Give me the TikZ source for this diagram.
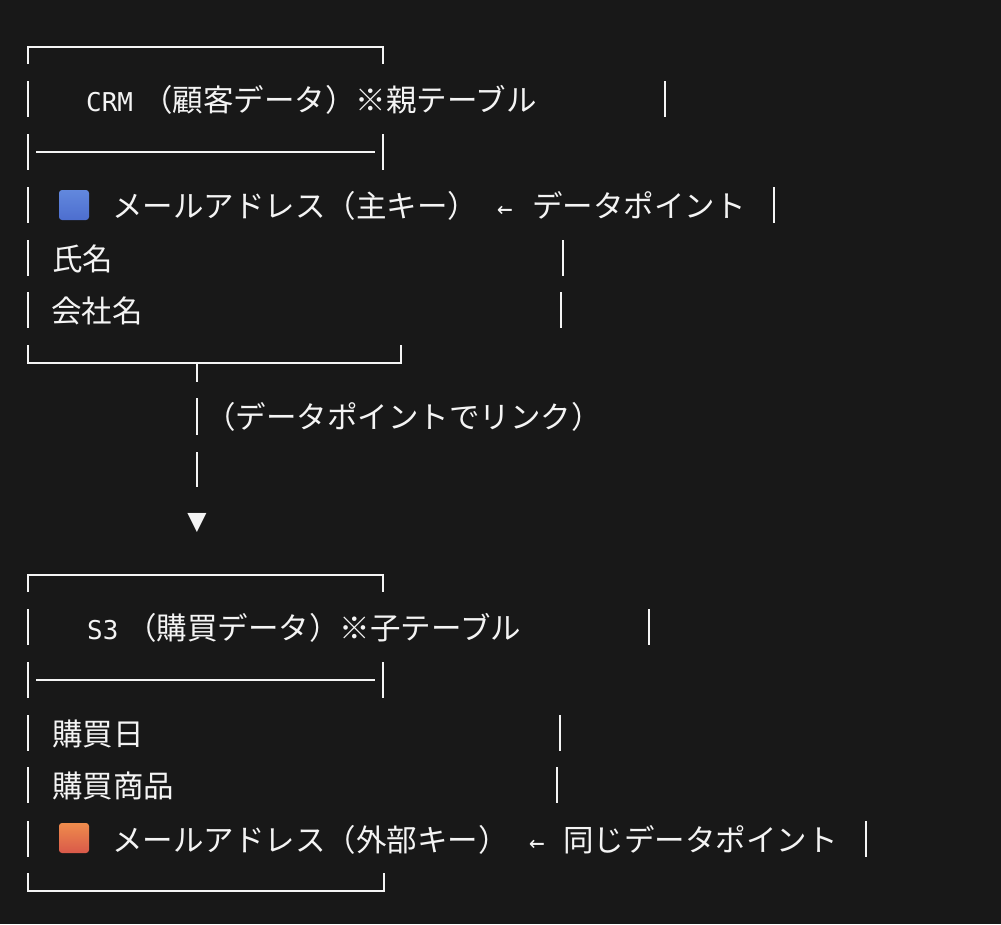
\documentclass[tikz,border=0pt]{standalone}
\usepackage{fontspec}
\setmainfont{Noto Sans CJK JP}
\newfontfamily\latinmono[Scale=0.85]{DejaVu Sans Mono}
\newfontfamily\symfont{DejaVu Sans}
\usetikzlibrary{shapes}
\definecolor{bg}{HTML}{181818}
\definecolor{ink}{HTML}{F4F4F4}
\definecolor{keybluetop}{HTML}{6288DD}
\definecolor{keybluebot}{HTML}{4D6ECF}
\definecolor{keyorangetop}{HTML}{EF8C4C}
\definecolor{keyorangebot}{HTML}{D9594A}
\begin{document}
\begin{tikzpicture}[x=1pt,y=-1pt,
every node/.style={inner sep=0pt,text=ink},
txt/.style={anchor=base west,font=\fontsize{30.5}{36}\selectfont},
rule/.style={draw=ink,line width=1.8pt},
keyicon/.style={minimum size=30pt,rounded corners=3pt}]
\fill[bg] (0,0) rectangle (1001,924);
% CRM table
\draw[rule] (28,64) -- (28,47) -- (383,47) -- (383,64);
\foreach \y in {99,152,205,258,310}
  \draw[rule] (28,\y-18) -- (28,\y+18);
\foreach \x/\y in {665/99,383/152,774/205,563/258,561/310}
  \draw[rule] (\x,\y-18) -- (\x,\y+18);
\draw[rule] (36,152) -- (375,152);
\draw[rule] (28,345) -- (28,363) -- (401,363) -- (401,345);
\node[txt] (crmtitle) at (86,111) {{\latinmono CRM}\hspace{9pt}（顧客データ）※親テーブル};
\node[keyicon,top color=keybluetop,bottom color=keybluebot] (crmkeyicon) at (74,205) {};
\node[txt] (crmkey) at (112,217) {メールアドレス（主キー）};
\node[txt] (crmarrow) at (497,217) {\latinmono ←};
\node[txt] (crmnote) at (532,217) {データポイント};
\node[txt] (crmname) at (52,270) {氏名};
\node[txt] (crmcompany) at (51,322) {会社名};
% link
\coordinate (stem) at (197,363);
\node[font=\symfont\fontsize{25}{30}\selectfont] (tip) at (197,523) {▼};
\draw[rule,dash pattern=on 19pt off 16pt on 37pt off 17pt on 35pt off 60pt] (stem) -- (tip.north);
\node[txt] (linknote) at (205,428) {（データポイントでリンク）};
% S3 table
\draw[rule] (28,592) -- (28,575) -- (383,575) -- (383,592);
\foreach \y in {627,680,733,785,839}
  \draw[rule] (28,\y-18) -- (28,\y+18);
\foreach \x/\y in {649/627,383/680,560/733,557/785,866/839}
  \draw[rule] (\x,\y-18) -- (\x,\y+18);
\draw[rule] (36,680) -- (375,680);
\draw[rule] (28,873) -- (28,891) -- (384,891) -- (384,873);
\node[txt] (s3title) at (87,639) {{\latinmono S3}\hspace{8pt}（購買データ）※子テーブル};
\node[txt] (s3date) at (52,745) {購買日};
\node[txt] (s3item) at (52,797) {購買商品};
\node[keyicon,top color=keyorangetop,bottom color=keyorangebot] (s3keyicon) at (74,838) {};
\node[txt] (s3key) at (112,851) {メールアドレス（外部キー）};
\node[txt] (s3arrow) at (529,851) {\latinmono ←};
\node[txt] (s3note) at (563,851) {同じデータポイント};
\end{tikzpicture}
\end{document}
